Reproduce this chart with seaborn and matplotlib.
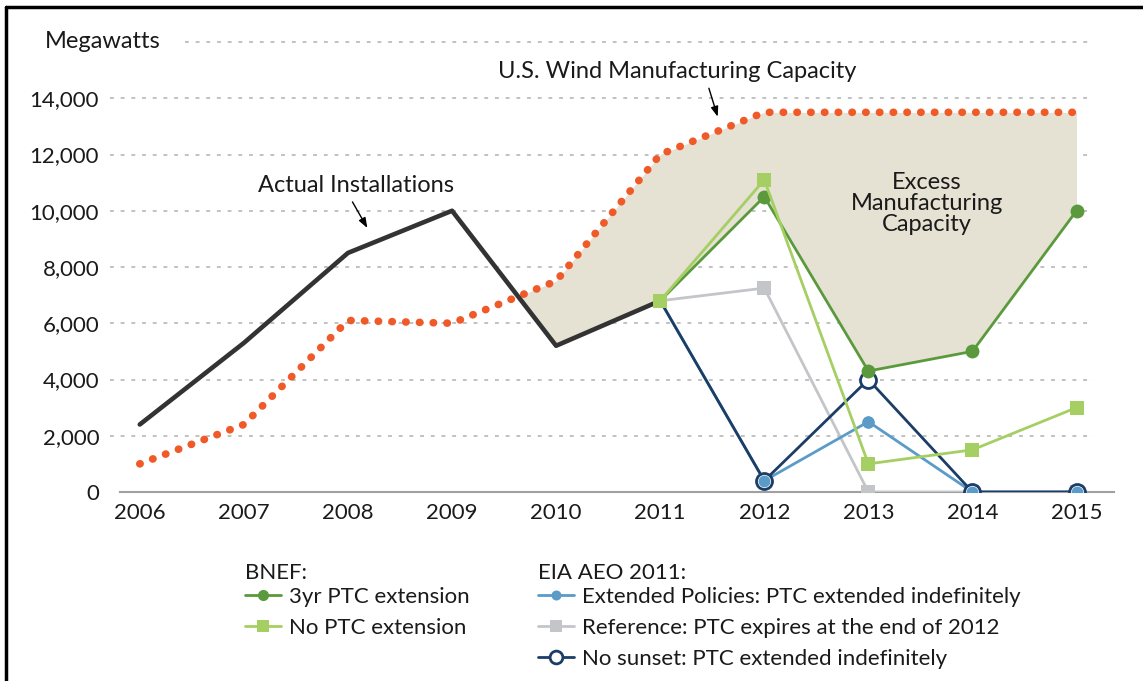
import pandas as pd
import seaborn as sns
import matplotlib.pyplot as plt
from matplotlib.lines import Line2D
from matplotlib.ticker import FixedLocator, NullFormatter

# data (megawatts)
years = [2006, 2007, 2008, 2009, 2010, 2011, 2012, 2013, 2014, 2015]
capacity = [1000, 2400, 6100, 6000, 7500, 12000, 13500, 13500, 13500, 13500]
actual_years = [2006, 2007, 2008, 2009, 2010, 2011]
actual = [2400, 5300, 8500, 10000, 5200, 6800]
scen_years = [2011, 2012, 2013, 2014, 2015]
bnef_3yr = [6800, 10500, 4300, 5000, 10000]
bnef_none = [6800, 11100, 1000, 1500, 3000]
eia_extended = [6800, 400, 2500, 0, 0]
eia_reference = [6800, 7250, 0, 0, 0]
eia_nosunset = [6800, 400, 4000, 0, 0]
y_ticks = [0, 2000, 4000, 6000, 8000, 10000, 12000, 14000]

sns.set_style("white")
plt.rcParams['font.family'] = ['Lato', 'DejaVu Sans']

W, H = 1143, 681
fig = plt.figure(figsize=(W / 100, H / 100), dpi=100)
ax = fig.add_axes([120 / W, 1 - 492 / H, (1114 - 120) / W, (492 - 42) / H])

ORANGE = '#f05a28'
BLACK = '#333333'
DKGREEN = '#5b9a3c'
LTGREEN = '#a5cf63'
LTBLUE = '#5a9bc8'
GRAY = '#c3c5c9'
NAVY = '#1b3d66'
BEIGE = '#e5e1d3'
TXT = '#1a1a1a'

# excess capacity shading: capacity above actual, then above 3yr extension
cap = pd.Series(capacity, index=years)
low = pd.concat([pd.Series(actual, index=actual_years),
                 pd.Series(bnef_3yr[1:], index=scen_years[1:])])
span = [y for y in years if y >= 2009]
ax.fill_between(span, low.loc[span], cap.loc[span],
                where=(cap.loc[span] > low.loc[span]).values,
                interpolate=True, color=BEIGE, lw=0, zorder=1)

sns.lineplot(x=years, y=capacity, ax=ax, color=ORANGE, lw=5.5,
             linestyle=(0, (0.05, 1.75)), dash_capstyle='round', zorder=3, legend=False)
sns.lineplot(x=actual_years, y=actual, ax=ax, color=BLACK, lw=3.3, zorder=3,
             legend=False)

def scenario(vals, color, marker, ms, zorder, **kw):
    sns.lineplot(x=scen_years, y=vals, ax=ax, color=color, lw=2, marker=marker,
                 ms=ms, zorder=zorder, legend=False, **kw)
    return ax.lines[-1]

skip_first = slice(1, None)
h_ref = scenario(eia_reference, GRAY, 's', 10, 4, mec=GRAY, mew=0, markevery=skip_first)
h_ext = scenario(eia_extended, LTBLUE, 'o', 9, 4.5, mec=LTBLUE, mew=0, markevery=skip_first)
h_nos = scenario(eia_nosunset, NAVY, 'o', 11.5, 5, mec=NAVY, mfc='white', mew=2,
                 markevery=skip_first)
# light blue markers sit on top of the navy rings
scenario(eia_extended, LTBLUE, 'o', 8.5, 5.5, mec=LTBLUE, mew=0, markevery=skip_first,
         linestyle='')
h_3yr = scenario(bnef_3yr, DKGREEN, 'o', 10, 7, mec=DKGREEN, mew=0, markevery=skip_first)
h_none = scenario(bnef_none, LTGREEN, 's', 10, 8, mec=LTGREEN, mew=0)

# axes styling
ax.set_xlim(2005.81, 2015.36)
ax.set_ylim(0, 16000)
for s in ['left', 'top', 'right']:
    ax.spines[s].set_visible(False)
ax.spines['bottom'].set_color('#a0a0a0')
ax.spines['bottom'].set_linewidth(1.5)

ax.xaxis.set_major_locator(FixedLocator([2005.81] + [y + 0.5 for y in years[:-1]] + [2015.36]))
ax.xaxis.set_major_formatter(NullFormatter())
ax.xaxis.set_minor_locator(FixedLocator(years))
ax.set_xticklabels([str(y) for y in years], minor=True)
ax.tick_params(axis='x', which='major', length=7, width=1.3, color='#a0a0a0', direction='out')
ax.tick_params(axis='x', which='minor', length=0, pad=8, labelsize=16, labelcolor=TXT)

ax.set_yticks(y_ticks)
ax.set_yticklabels([f"{v:,}" for v in y_ticks])
ax.tick_params(axis='y', length=0, pad=15, labelsize=16, labelcolor=TXT)
ax.set_xlabel('')
ax.set_ylabel('')

# dotted grid lines reaching into the label column
ax.hlines(y_ticks[1:], 2005.71, 2015.17, colors='#b0b0b0', lw=1.1,
          linestyles=(0, (2.5, 4.5)), clip_on=False, zorder=0)
ax.hlines([16000], 2006.43, 2015.17, colors='#b0b0b0', lw=1.1,
          linestyles=(0, (2.5, 4.5)), clip_on=False, zorder=0)
fig.text(45 / W, 1 - 42 / H, 'Megawatts', fontsize=17, va='center', ha='left', color=TXT)

# annotations
arrow = dict(arrowstyle='-|>,head_length=0.6,head_width=0.22', color='black', lw=1)
ax.text(2008.08, 10900, 'Actual Installations', fontsize=17, ha='center', va='center', color=TXT)
ax.annotate('', xy=(2008.2, 9300), xytext=(2008.03, 10400), arrowprops=arrow)
ax.text(2011.16, 14950, 'U.S. Wind Manufacturing Capacity', fontsize=17, ha='center',
        va='center', color=TXT)
ax.annotate('', xy=(2011.56, 13250), xytext=(2011.46, 14450), arrowprops=arrow)
ax.text(2013.56, 10250, 'Excess\nManufacturing\nCapacity', fontsize=17, ha='center', va='center',
        linespacing=1.0, color=TXT)

# legends, with their headings as plain text
fig.text(245 / W, 1 - 573 / H, 'BNEF:', fontsize=16, va='center', ha='left', color=TXT)
fig.text(538 / W, 1 - 573 / H, 'EIA AEO 2011:', fontsize=16, va='center', ha='left', color=TXT)
common = dict(loc='upper left', frameon=False, handlelength=1.6, handletextpad=0.4,
              labelspacing=0.49, fontsize=16, borderpad=0, borderaxespad=0, numpoints=1,
              markerscale=0.8, labelcolor=TXT)
fig.legend(handles=[h_3yr, h_none], labels=['3yr PTC extension', 'No PTC extension'],
           bbox_to_anchor=(245 / W, 1 - 587 / H), **common)
fig.legend(handles=[h_ext, h_ref, h_nos],
           labels=['Extended Policies: PTC extended indefinitely',
                   'Reference: PTC expires at the end of 2012',
                   'No sunset: PTC extended indefinitely'],
           bbox_to_anchor=(538 / W, 1 - 587 / H), **common)

# frame lines on the left and top
fig.add_artist(Line2D([6 / W, 6 / W], [0, 1 - 7 / H], color='black', lw=2.5))
fig.add_artist(Line2D([6 / W, 1], [1 - 7 / H, 1 - 7 / H], color='black', lw=2.5))

fig.savefig('out.png', dpi=100)
